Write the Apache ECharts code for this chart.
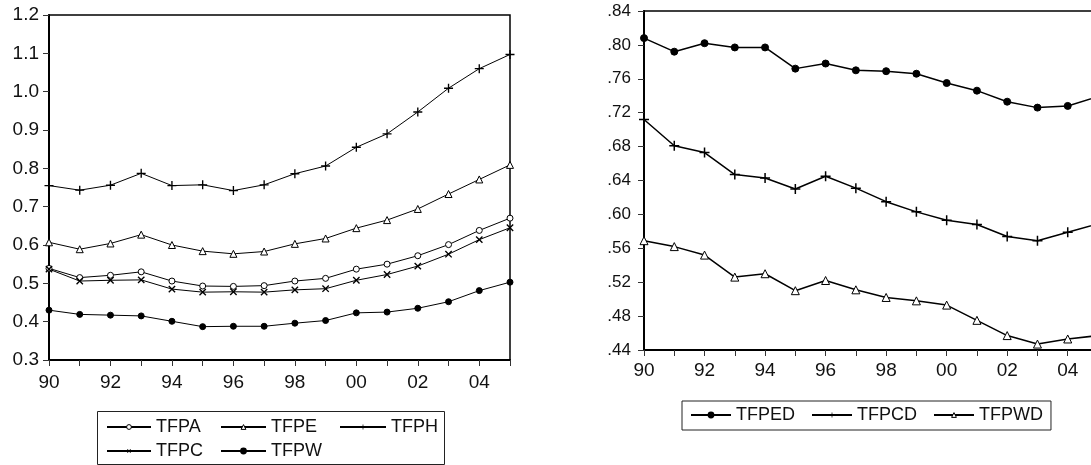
<!DOCTYPE html>
<html>
<head>
<meta charset="utf-8">
<script src="https://cdn.jsdelivr.net/npm/echarts@6/dist/echarts.min.js"></script>
<style>
html,body{margin:0;padding:0;background:#fff;}
#c{width:1091px;height:465px;}
</style>
</head>
<body>
<div id="c"></div>
<script>
var years = ['90','91','92','93','94','95','96','97','98','99','00','01','02','03','04','05'];

var TFPA = [0.539,0.515,0.521,0.530,0.506,0.493,0.492,0.494,0.506,0.513,0.537,0.550,0.572,0.601,0.638,0.670];
var TFPE = [0.607,0.589,0.604,0.627,0.600,0.584,0.577,0.583,0.603,0.617,0.644,0.665,0.694,0.733,0.771,0.809];
var TFPH = [0.755,0.743,0.756,0.787,0.755,0.757,0.742,0.757,0.786,0.806,0.855,0.890,0.947,1.009,1.060,1.097];
var TFPC = [0.537,0.506,0.508,0.509,0.485,0.477,0.478,0.477,0.483,0.486,0.508,0.523,0.545,0.576,0.614,0.645];
var TFPW = [0.430,0.419,0.417,0.415,0.401,0.387,0.388,0.388,0.396,0.403,0.423,0.425,0.435,0.452,0.481,0.503];

var TFPED = [0.808,0.792,0.802,0.797,0.797,0.772,0.778,0.770,0.769,0.766,0.755,0.746,0.733,0.726,0.728,0.739];
var TFPCD = [0.712,0.681,0.673,0.647,0.643,0.630,0.645,0.631,0.615,0.603,0.593,0.588,0.574,0.569,0.579,0.589];
var TFPWD = [0.569,0.562,0.552,0.526,0.530,0.510,0.522,0.511,0.502,0.498,0.493,0.475,0.457,0.447,0.453,0.457];

var FONT = '"Liberation Sans", Arial, Helvetica, sans-serif';
var PLUS = 'path://M4.25,0H5.75V10H4.25ZM0,4.25H10V5.75H0Z';

function mkSeries(name, data, sym, size, grid, lw, opts) {
  opts = opts || {};
  var isPath = sym.indexOf('path') === 0;
  var s = {
    name: name, type: 'line', data: data,
    xAxisIndex: grid, yAxisIndex: grid,
    symbol: sym, symbolSize: size, showSymbol: true,
    lineStyle: {color: '#000', width: lw},
    itemStyle: {
      color: opts.hollow ? '#fff' : '#000',
      borderColor: '#000',
      borderWidth: isPath ? 0 : 1
    },
    emphasis: {disabled: true},
    silent: true, animation: false, z: 3
  };
  if (opts.rot) s.symbolRotate = opts.rot;
  return s;
}

function hollowItem(name) {
  return {name: name, itemStyle: {color: '#fff', borderColor: '#000', borderWidth: 1}};
}

var xAxisBase = function (grid, margin) {
  return {
    type: 'category', gridIndex: grid, data: years, boundaryGap: false,
    axisLine: {show: true, lineStyle: {color: '#000', width: 2}},
    axisTick: {show: true, interval: 0, length: 6, lineStyle: {color: '#333', width: 1}},
    axisLabel: {interval: 1, margin: margin, color: '#111', fontFamily: FONT, fontSize: 19},
    splitLine: {show: false}
  };
};

var legendText = {fontFamily: FONT, fontSize: 18, color: '#111'};

var chart = echarts.init(document.getElementById('c'), null, {renderer: 'canvas'});
var option = {
  animation: false,
  backgroundColor: '#fff',
  textStyle: {fontFamily: FONT, color: '#111'},
  grid: [
    {left: 49, top: 15, width: 461, height: 345, show: true, borderColor: '#000', borderWidth: 1.5, containLabel: false, outerBoundsMode: 'none'},
    {left: 644, top: 11, width: 454, height: 339, show: true, borderColor: '#000', borderWidth: 1.5, containLabel: false, outerBoundsMode: 'none'}
  ],
  xAxis: [xAxisBase(0, 13), xAxisBase(1, 11)],
  yAxis: [
    {
      type: 'value', gridIndex: 0, min: 0.3, max: 1.2, interval: 0.1,
      axisLine: {show: true, lineStyle: {color: '#000', width: 2}},
      axisTick: {show: true, length: 6, lineStyle: {color: '#333', width: 1}},
      axisLabel: {margin: 10, color: '#111', fontFamily: FONT, fontSize: 19, formatter: function (v) { return v.toFixed(1); }},
      splitLine: {show: false}
    },
    {
      type: 'value', gridIndex: 1, min: 0.44, max: 0.84, interval: 0.04,
      axisLine: {show: true, lineStyle: {color: '#000', width: 2}},
      axisTick: {show: true, length: 6, lineStyle: {color: '#333', width: 1}},
      axisLabel: {margin: 13, color: '#111', fontFamily: FONT, fontSize: 17, formatter: function (v) { return v.toFixed(2).replace(/^0/, ''); }},
      splitLine: {show: false}
    }
  ],
  legend: [
    {data: [hollowItem('TFPA'), 'TFPC'], orient: 'vertical', left: 106, top: 418, padding: 0, itemGap: 6, itemWidth: 44, itemHeight: 6,
     textStyle: legendText, selectedMode: false},
    {data: [hollowItem('TFPE'), 'TFPW'], orient: 'vertical', left: 220, top: 418, padding: 0, itemGap: 6, itemWidth: 45, itemHeight: 6,
     textStyle: legendText, selectedMode: false},
    {data: ['TFPH'], orient: 'vertical', left: 339, top: 418, padding: 0, itemGap: 6, itemWidth: 46, itemHeight: 6,
     textStyle: legendText, selectedMode: false},
    {data: ['TFPED', 'TFPCD', hollowItem('TFPWD')], orient: 'horizontal', left: 682, top: 401, padding: [5, 8, 6, 8], itemGap: 16, itemWidth: 40, itemHeight: 6,
     borderColor: '#222', borderWidth: 1,
     textStyle: legendText, selectedMode: false}
  ],
  graphic: [
    {type: 'rect', shape: {x: 97.5, y: 411.5, width: 347, height: 53}, style: {fill: 'none', stroke: '#222', lineWidth: 1}, silent: true}
  ],
  series: [
    mkSeries('TFPA', TFPA, 'circle', 6, 0, 1, {hollow: true}),
    mkSeries('TFPE', TFPE, 'triangle', 7, 0, 1, {hollow: true}),
    mkSeries('TFPH', TFPH, PLUS, 9, 0, 1),
    mkSeries('TFPC', TFPC, PLUS, 9, 0, 1, {rot: 45}),
    mkSeries('TFPW', TFPW, 'circle', 6, 0, 1),
    mkSeries('TFPED', TFPED, 'circle', 7, 1, 1.5),
    mkSeries('TFPCD', TFPCD, PLUS, 10, 1, 1.5),
    mkSeries('TFPWD', TFPWD, 'triangle', 8, 1, 1.5, {hollow: true})
  ]
};
chart.setOption(option);
</script>
</body>
</html>
